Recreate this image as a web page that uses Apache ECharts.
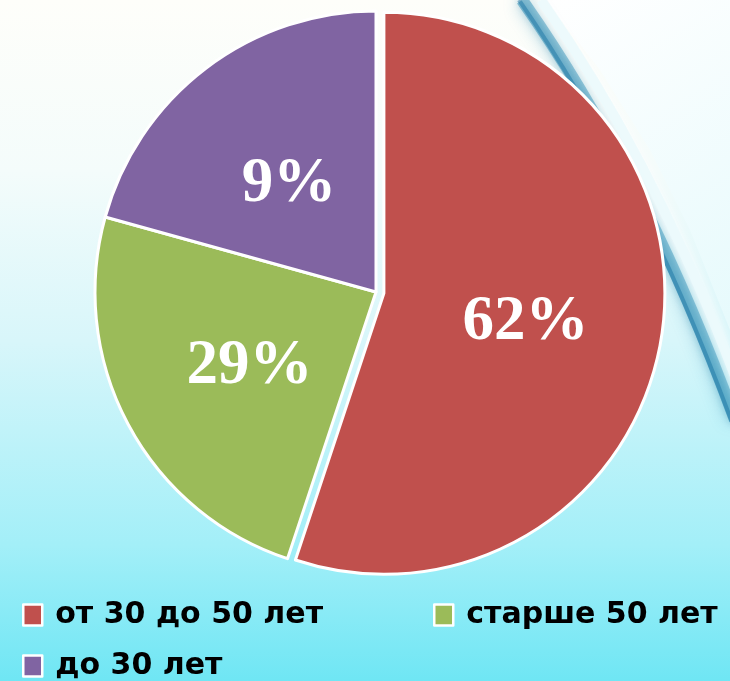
<!DOCTYPE html>
<html>
<head>
<meta charset="utf-8">
<script src="https://cdn.jsdelivr.net/npm/echarts@6/dist/echarts.min.js"></script>
<style>html,body{margin:0;padding:0;}#chart{width:730px;height:681px;}</style>
</head>
<body>
<div id="chart"></div>
<script>
var categories = ['от 30 до 50 лет', 'старше 50 лет', 'до 30 лет'];
var values = [55.1, 24.2, 20.7];
var labelTexts = ['62%', '29%', '9%'];
var colors = ['#C0504D', '#9BBB59', '#8064A2'];

var chart = echarts.init(document.getElementById('chart'));
var data = categories.map(function (c, i) {
  return {
    name: c, value: values[i], label: { formatter: labelTexts[i], offset: [0, 7] },
    selected: i === 0,
    itemStyle: { color: colors[i] }
  };
});
function legendAt(names, left, top) {
  return {
    data: names, left: left, top: top, orient: 'horizontal',
    itemWidth: 19, itemHeight: 21, itemGap: 10,
    icon: 'rect',
    selectedMode: false,
    itemStyle: { borderColor: '#ffffff', borderWidth: 2.5 },
    textStyle: { fontFamily: 'DejaVu Sans', fontWeight: 'bold', fontSize: 30, color: '#000', padding: [0,0,0,8] }
  };
}
chart.setOption({
  animation: false,
  backgroundColor: {
    type: 'linear', x: 0, y: 0, x2: 0, y2: 1,
    colorStops: [
      { offset: 0, color: '#fefefa' },
      { offset: 0.25, color: '#f4fcfb' },
      { offset: 0.5, color: '#d8f6fa' },
      { offset: 0.8, color: '#a3eff8' },
      { offset: 1, color: '#6fe6f4' }
    ]
  },
  graphic: [
    {
      type: 'polygon', z: -10, silent: true,
      shape: { points: [[545,0],[600,70],[650,150],[690,230],[730,330],[730,0]] },
      style: { fill: { type: 'linear', x: 0, y: 0, x2: 1, y2: 1, colorStops: [{offset:0,color:'#ffffff'},{offset:1,color:'#e6fafc'}] } }
    },
    {
      type: 'bezierCurve', z: -9, silent: true,
      shape: { x1: 522, y1: 0, cpx1: 645, cpy1: 175, x2: 735, y2: 420 },
      style: { fill: null, stroke: 'rgba(40,140,180,0.5)', lineWidth: 12, shadowBlur: 16, shadowColor: 'rgba(40,140,180,0.8)' }
    },
    {
      type: 'bezierCurve', z: -9, silent: true,
      shape: { x1: 519, y1: 0, cpx1: 642, cpy1: 178, x2: 733, y2: 425 },
      style: { fill: null, stroke: 'rgba(20,110,160,0.45)', lineWidth: 4, shadowBlur: 6, shadowColor: 'rgba(20,110,160,0.6)' }
    },
    {
      type: 'bezierCurve', z: -9, silent: true,
      shape: { x1: 541, y1: 0, cpx1: 659, cpy1: 168, x2: 742, y2: 395 },
      style: { fill: null, stroke: 'rgba(235,250,252,0.9)', lineWidth: 10, shadowBlur: 10, shadowColor: '#ffffff' }
    }
  ],
  legend: [
    legendAt([categories[0]], 17, 595),
    legendAt([categories[1]], 428, 595),
    legendAt([categories[2]], 17, 646)
  ],
  series: [{
    type: 'pie',
    center: [376, 292],
    radius: [0, 281],
    startAngle: 90,
    clockwise: true,
    selectedMode: 'single',
    selectedOffset: 8,
    avoidLabelOverlap: false,
    itemStyle: { borderColor: '#ffffff', borderWidth: 3 },
    label: {
      show: true, position: 'inside', offset: [0, 7],
      fontFamily: 'Liberation Serif', fontWeight: 'bold', fontSize: 63, color: '#ffffff'
    },
    select: { label: { offset: [0, 7] } },
    labelLine: { show: false },
    emphasis: { disabled: true },
    data: data
  }]
});
</script>
</body>
</html>
